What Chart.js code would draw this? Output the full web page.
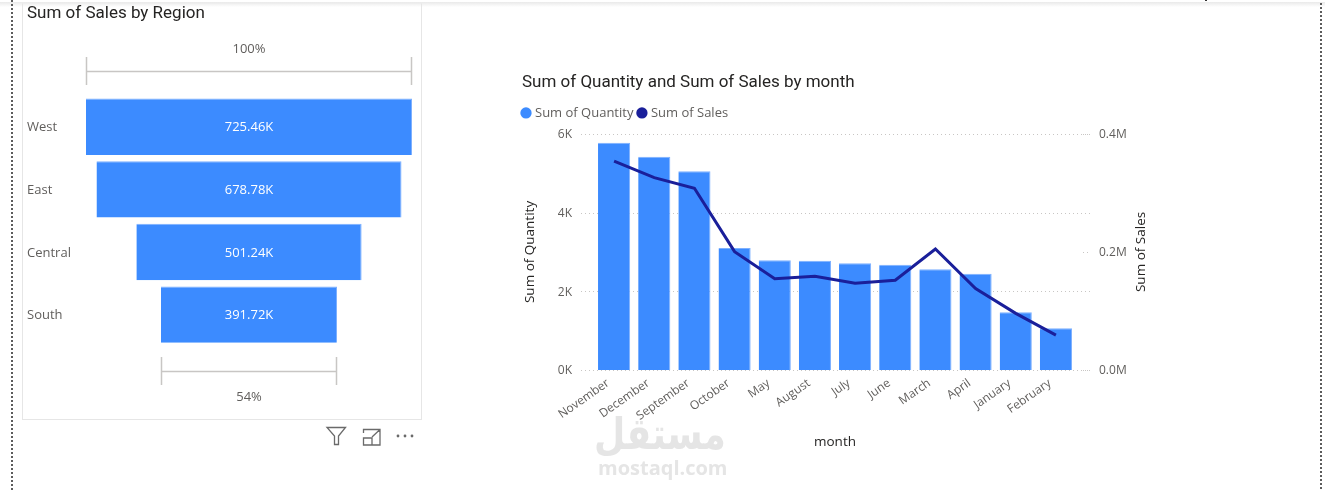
<!DOCTYPE html>
<html>
<head>
<meta charset="utf-8">
<title>Sales dashboard</title>
<script src="https://cdn.jsdelivr.net/npm/chart.js@4"></script>
<style>
  html, body { margin: 0; padding: 0; background: #fff; }
  body { position: relative; width: 1325px; height: 490px; overflow: hidden; font-family: 'Open Sans', sans-serif; }
  .top-shade { position: absolute; left: 0; top: 2px; width: 100%; height: 5px; background: linear-gradient(#e9e9e9, #fff); }
  .top-tick { position: absolute; left: 1205px; top: 0; width: 2px; height: 1px; background: #333; }
  .page-edge { position: absolute; top: 0; bottom: 0; width: 2px; background: repeating-linear-gradient(#5c5c5c 0 2px, transparent 2px 4px); }
  .panel { position: absolute; left: 22px; top: 3px; width: 398px; height: 415px; border: 1px solid #e6e6e6; border-top-color: #eee; }
  #funnel { position: absolute; left: 22px; top: 3px; }
  #combo { position: absolute; left: 515px; top: 70px; }
  .visual-icons { position: absolute; left: 325px; top: 425px; }
  .mark { position: absolute; color: #e5e5e5; white-space: nowrap; user-select: none; }
  .mark-ar { left: 584px; top: 408px; width: 156px; font: 700 44px 'DejaVu Sans', sans-serif; text-align: center; direction: rtl; transform: scaleX(0.82); }
  .mark-en { left: 598px; top: 454px; font: 700 20px 'Open Sans', sans-serif; }
</style>
</head>
<body>
<div class="top-shade"></div>
<div class="top-tick"></div>
<div class="page-edge" style="left:11px"></div>
<div class="page-edge" style="left:1320px;top:3px"></div>
<div class="panel"></div>

<canvas id="funnel" width="400" height="417"></canvas>
<canvas id="combo" width="635" height="380"></canvas>

<svg class="visual-icons" width="92" height="22" fill="none" stroke="#6a6a6a" stroke-width="1.3">
  <path d="M2 2.5 H20.5 L13.5 11 V19.5 H9.5 V11 Z"/>
  <path d="M38.5 8 V4.5 H55 V20 H38.5 V13 H47 V20 M47 12 L55 4.5 M50 4.5 H55 V9"/>
  <g fill="#6a6a6a" stroke="none">
    <circle cx="73" cy="11" r="1.4"/><circle cx="80" cy="11" r="1.4"/><circle cx="87" cy="11" r="1.4"/>
  </g>
</svg>

<div class="mark mark-ar">مستقل</div>
<div class="mark mark-en">mostaql.com</div>

<script>
// ── Values ─────────────────────────────────────────────────────────
const REGIONS      = ['West', 'East', 'Central', 'South'];
const REGION_SALES = [725460, 678780, 501240, 391720];

const MONTHS   = ['November', 'December', 'September', 'October', 'May', 'August',
                  'July', 'June', 'March', 'April', 'January', 'February'];
const QUANTITY = [5775, 5418, 5050, 3102, 2788, 2778, 2711, 2676, 2558, 2446, 1468, 1060];
const SALES    = [354000, 326000, 308000, 200500, 154500, 159000,
                  147000, 152000, 205000, 138000, 96000, 59000];

const QTY_TICKS   = { max: 6000, step: 2000 };
const SALES_TICKS = { max: 400000, step: 200000 };

// ── Shared look ────────────────────────────────────────────────────
const BAR_BLUE   = '#3c8bff';
const BAR_EDGE   = '#7db0ff';
const LINE_NAVY  = '#1a1f9a';
const LABEL_GREY = '#605e5c';
const DARK_TEXT  = '#252423';
const GRID_GREY  = '#c8c6c4';
const BODY_FONT  = "'Open Sans', sans-serif";
const TITLE_FONT = "Roboto, sans-serif";

Chart.defaults.font.family = BODY_FONT;
Chart.defaults.color = LABEL_GREY;
Chart.defaults.animation = false;

const kLabel = v => (v / 1000).toFixed(2) + 'K';

// ── Funnel: centred floating bars plus the two span brackets ───────
const funnelDecor = {
  id: 'funnelDecor',
  afterDatasetsDraw(chart) {
    const { ctx, scales: { x, y } } = chart;
    ctx.save();
    ctx.textAlign = 'center';
    ctx.textBaseline = 'middle';
    ctx.font = `13px ${BODY_FONT}`;

    ctx.fillStyle = '#fff';
    REGION_SALES.forEach((v, i) => {
      ctx.fillText(kLabel(v), x.getPixelForValue(0), y.getPixelForValue(i) + 1);
    });

    const first = REGION_SALES[0];
    const last = REGION_SALES[REGION_SALES.length - 1];
    const bracket = (value, lineY, textY) => {
      const l = Math.round(x.getPixelForValue(-value / 2)) + 0.5;
      const r = Math.round(x.getPixelForValue(value / 2)) - 0.5;
      ctx.strokeStyle = GRID_GREY;
      ctx.lineWidth = 1.5;
      ctx.beginPath();
      ctx.moveTo(l, lineY - 14); ctx.lineTo(l, lineY + 14);
      ctx.moveTo(r, lineY - 14); ctx.lineTo(r, lineY + 14);
      ctx.moveTo(l, lineY + 0.5); ctx.lineTo(r, lineY + 0.5);
      ctx.stroke();
      ctx.fillStyle = LABEL_GREY;
      ctx.fillText(Math.round(value / first * 100) + '%', x.getPixelForValue(0), textY);
    };
    bracket(first, 68, 46);
    bracket(last, 368, 394);
    ctx.restore();
  }
};

new Chart(document.getElementById('funnel'), {
  type: 'bar',
  data: {
    labels: REGIONS,
    datasets: [{
      data: REGION_SALES.map(v => [-v / 2, v / 2]),
      backgroundColor: BAR_BLUE,
      borderColor: BAR_EDGE,
      borderWidth: { top: 1, right: 1 },
      borderSkipped: false,
      barPercentage: 0.9,
      categoryPercentage: 1,
    }],
  },
  options: {
    indexAxis: 'y',
    responsive: false,
    maintainAspectRatio: false,
    layout: { padding: { left: 5, right: 10, top: 1, bottom: 74 } },
    plugins: {
      legend: { display: false },
      tooltip: { enabled: false },
      title: {
        display: true,
        text: 'Sum of Sales by Region',
        align: 'start',
        color: DARK_TEXT,
        font: { family: TITLE_FONT, size: 17, weight: 'normal' },
        padding: { top: 0, bottom: 71 },
      },
    },
    scales: {
      x: { display: false, min: -REGION_SALES[0] / 2, max: REGION_SALES[0] / 2 },
      y: {
        afterFit: s => { s.width = 59; },
        border: { display: false },
        grid: { display: false },
        ticks: { crossAlign: 'far', padding: 0, labelOffset: 1, color: LABEL_GREY, font: { size: 13 } },
      },
    },
  },
  plugins: [funnelDecor],
});

// ── Combo: dotted guides run past the plot on both sides ───────────
const SALES_AXIS_TITLE = 'Sum of Sales';

const comboGuides = {
  id: 'comboGuides',
  afterLayout(chart) {
    // legend sits a little up and left of where the layout box puts it
    chart.legend.left -= 4.5;
    chart.legend.top -= 4.5;
  },
  beforeDatasetsDraw(chart) {
    const { ctx, chartArea, scales: { y, y1 } } = chart;
    ctx.save();
    ctx.strokeStyle = GRID_GREY;
    ctx.lineWidth = 1;
    ctx.setLineDash([1, 3]);
    ctx.beginPath();
    y.ticks.forEach(t => {
      const py = Math.round(y.getPixelForValue(t.value)) + 0.5;
      ctx.moveTo(chartArea.left - 13, py);
      ctx.lineTo(chartArea.right + 14, py);
    });
    y1.ticks.forEach(t => {
      const py = Math.round(y1.getPixelForValue(t.value)) + 0.5;
      ctx.moveTo(chartArea.right + 7, py);
      ctx.lineTo(chartArea.right + 14, py);
    });
    ctx.stroke();
    ctx.restore();
  },
  afterDraw(chart) {
    // right axis title reads bottom-to-top, which the built-in title can't do
    const { ctx, chartArea, scales: { y1 } } = chart;
    ctx.save();
    ctx.translate(y1.right - 9, (chartArea.top + chartArea.bottom) / 2);
    ctx.rotate(-Math.PI / 2);
    ctx.textAlign = 'center';
    ctx.textBaseline = 'middle';
    ctx.fillStyle = DARK_TEXT;
    ctx.font = `13.5px ${BODY_FONT}`;
    ctx.fillText(SALES_AXIS_TITLE, 0, 0);
    ctx.restore();
  }
};

new Chart(document.getElementById('combo'), {
  data: {
    labels: MONTHS,
    datasets: [
      {
        type: 'bar',
        label: 'Sum of Quantity',
        data: QUANTITY,
        yAxisID: 'y',
        order: 2,
        backgroundColor: BAR_BLUE,
        borderColor: BAR_EDGE,
        borderWidth: { top: 1, right: 1 },
        borderSkipped: false,
        barPercentage: 0.8,
        categoryPercentage: 1,
        pointStyle: 'circle',
      },
      {
        type: 'line',
        label: SALES_AXIS_TITLE,
        data: SALES,
        yAxisID: 'y1',
        order: 1,
        borderColor: LINE_NAVY,
        backgroundColor: LINE_NAVY,
        borderWidth: 3,
        pointRadius: 0,
        tension: 0,
        pointStyle: 'circle',
      },
    ],
  },
  options: {
    responsive: false,
    maintainAspectRatio: false,
    layout: { padding: { left: 7, right: 0, top: 3, bottom: 0 } },
    plugins: {
      tooltip: { enabled: false },
      title: {
        display: true,
        text: 'Sum of Quantity and Sum of Sales by month',
        align: 'start',
        color: DARK_TEXT,
        font: { family: TITLE_FONT, size: 17, weight: 'normal' },
        padding: { top: 0, bottom: 11.5 },
      },
      legend: {
        position: 'top',
        align: 'start',
        labels: {
          usePointStyle: true,
          boxWidth: 5,
          boxHeight: 8,
          padding: 6,
          color: LABEL_GREY,
          font: { size: 13 },
          sort: (a, b) => a.datasetIndex - b.datasetIndex,
          generateLabels(chart) {
            return Chart.defaults.plugins.legend.labels.generateLabels(chart)
              .map(item => ({ ...item, lineWidth: 0 }));
          },
        },
      },
    },
    scales: {
      x: {
        afterFit: s => { s.height = 80; },
        border: { display: false },
        grid: { display: false, drawTicks: false },
        ticks: { minRotation: 35, maxRotation: 35, padding: 6, labelOffset: -6, autoSkip: false, color: LABEL_GREY, font: { size: 12 } },
        title: { display: true, text: 'month', color: DARK_TEXT, font: { size: 13.5 }, padding: 0 },
      },
      y: {
        position: 'left',
        min: 0,
        max: QTY_TICKS.max,
        afterFit: s => { s.width = 72; },
        border: { display: false },
        grid: { display: false },
        ticks: { stepSize: QTY_TICKS.step, padding: 14, labelOffset: 1, color: LABEL_GREY, font: { size: 12 }, callback: v => (v / 1000) + 'K' },
        title: { display: true, text: 'Sum of Quantity', color: DARK_TEXT, font: { size: 13.5 }, padding: 0 },
      },
      y1: {
        position: 'right',
        min: 0,
        max: SALES_TICKS.max,
        afterFit: s => { s.width = 74; },
        border: { display: false },
        grid: { display: false },
        ticks: { stepSize: SALES_TICKS.step, padding: 15, labelOffset: 1, color: LABEL_GREY, font: { size: 12 }, callback: v => (v / 1e6).toFixed(1) + 'M' },
      },
    },
  },
  plugins: [comboGuides],
});
</script>
</body>
</html>
